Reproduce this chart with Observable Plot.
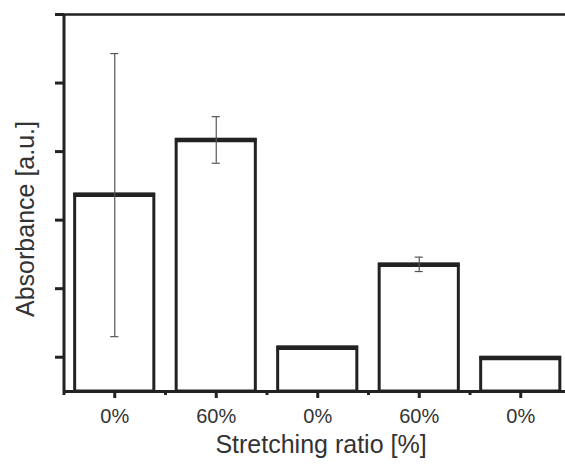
<!DOCTYPE html>
<html>
<head>
<meta charset="utf-8">
<script src="https://cdn.jsdelivr.net/npm/d3@7"></script>
<script src="https://cdn.jsdelivr.net/npm/@observablehq/plot@0.6"></script>
<style>
html, body { margin: 0; padding: 0; background: #fff; overflow: hidden; }
</style>
</head>
<body>
<div id="chart"></div>
<script>
// Data
const categories = ["0%", "60%", "0%", "60%", "0%"];
const values     = [2.87, 3.67, 0.64, 1.85, 0.49];
const errLow     = [0.80, 3.33, null, 1.75, null];
const errHigh    = [4.93, 4.01, null, 1.96, null];
const yTicks     = [0.5, 1.5, 2.5, 3.5, 4.5, 5.5];
const xLabel = "Stretching ratio [%]";
const yLabel = "Absorbance [a.u.]";

const data = categories.map((c, i) => ({pos: i + 1, cat: c, value: values[i], lo: errLow[i], hi: errHigh[i]}));
const errData = data.filter(d => d.lo != null);
const majorTicks = data.map(d => d.pos);
const minorTicks = data.map(d => d.pos - 0.5);
const half = 0.39, cap = 0.04;

const font = "'Liberation Sans', Arial, Helvetica, sans-serif";
const ink = "#222";
const textInk = "#333";

const chart = Plot.plot({
  width: 565,
  height: 464,
  marginLeft: 64,
  marginRight: 0,
  marginTop: 14,
  marginBottom: 73,
  style: {fontFamily: font, background: "#fff", overflow: "hidden"},
  x: {domain: [0.5, 5.5], range: [63.5, 571]},
  y: {domain: [0, 5.5]},
  marks: [
    // bars
    Plot.rectY(data, {x1: d => d.pos - half, x2: d => d.pos + half, y1: 0, y2: "value", fill: "#fff", stroke: ink, strokeWidth: 3}),
    Plot.ruleY(data, {x1: d => d.pos - half - 0.012, x2: d => d.pos + half + 0.012, y: "value", stroke: ink, strokeWidth: 4.5}),
    // error bars
    Plot.ruleX(errData, {x: "pos", y1: "lo", y2: "hi", stroke: "#555", strokeWidth: 1.2}),
    Plot.ruleY(errData, {x1: d => d.pos - cap, x2: d => d.pos + cap, y: "lo", stroke: "#555", strokeWidth: 1.2}),
    Plot.ruleY(errData, {x1: d => d.pos - cap, x2: d => d.pos + cap, y: "hi", stroke: "#555", strokeWidth: 1.2}),
    // frame lines
    Plot.ruleY([5.5], {stroke: ink, strokeWidth: 2.5}),
    Plot.ruleY([0], {stroke: ink, strokeWidth: 3}),
    Plot.ruleX([0.5], {y1: 0, y2: 5.5, stroke: ink, strokeWidth: 3}),
    // y ticks
    Plot.axisY({ticks: yTicks, tickSize: 9, stroke: ink, strokeWidth: 3, tickFormat: () => "", label: null}),
    // x ticks
    Plot.axisX({ticks: minorTicks, tickSize: 4, stroke: ink, strokeWidth: 3, tickFormat: () => "", label: null}),
    Plot.axisX({ticks: majorTicks, tickSize: 7, tickPadding: 10, stroke: ink, strokeWidth: 3,
      tickFormat: p => categories[p - 1], fontSize: 20, fill: textInk, label: null}),
    // axis titles
    Plot.text([xLabel], {frameAnchor: "bottom", textAnchor: "middle", text: d => d, dx: 6, dy: 61, fontSize: 25, fill: textInk}),
    Plot.text([yLabel], {frameAnchor: "left", textAnchor: "middle", text: d => d, rotate: -90, dx: -39, dy: 16, fontSize: 25, fill: textInk})
  ]
});
document.getElementById("chart").appendChild(chart);
</script>
</body>
</html>
